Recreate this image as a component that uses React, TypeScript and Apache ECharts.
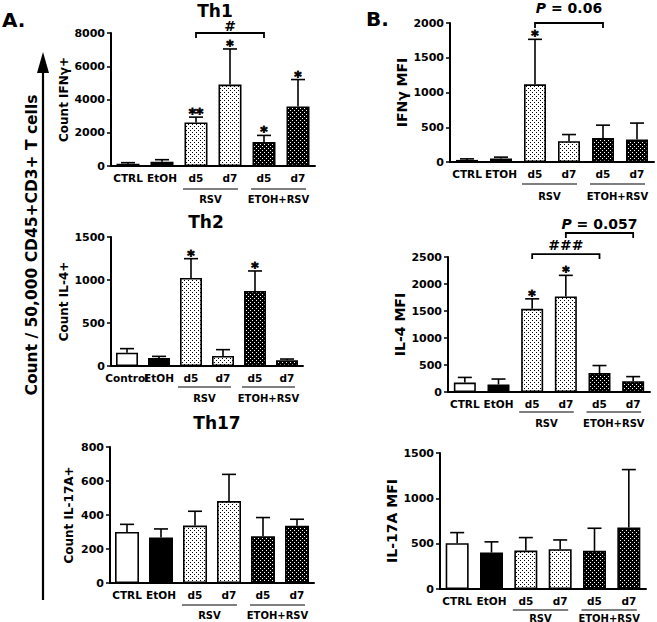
import React, { useEffect, useRef } from "react";
import * as echarts from "echarts";

const FONT = "'DejaVu Sans', 'Liberation Sans', Arial, sans-serif";

// ---- categories ----
const catsA = ["CTRL", "EtOH", "d5", "d7", "d5", "d7"];
const catsTh2 = ["Control", "EtOH", "d5", "d7", "d5", "d7"];
const catsIfn = ["CTRL", "ETOH", "d5", "d7", "d5", "d7"];
const groupLabels = ["RSV", "ETOH+RSV"];
const groupFrom = [2, 4];
const groupTo = [3, 5];
const fillKinds = ["white", "black", "light", "light", "dark", "dark"];

// ---- A. Th1 ----
const th1Values = [140, 260, 2620, 4900, 1440, 3580];
const th1ErrTop = [200, 380, 2940, 7040, 1840, 5200];
const th1Stars = ["", "", "**", "*", "*", "*"];
// ---- A. Th2 ----
const th2Values = [155, 93, 1023, 116, 872, 66];
const th2ErrTop = [202, 112, 1248, 190, 1105, 81];
const th2Stars = ["", "", "*", "", "*", ""];
// ---- A. Th17 ----
const th17Values = [300, 268, 338, 482, 275, 337];
const th17ErrTop = [345, 318, 422, 639, 385, 375];
const th17Stars = ["", "", "", "", "", ""];
// ---- B. IFNγ MFI ----
const ifnValues = [30, 50, 1118, 300, 345, 325];
const ifnErrTop = [45, 70, 1765, 395, 530, 560];
const ifnStars = ["", "", "*", "", "", ""];
// ---- B. IL-4 MFI ----
const il4Values = [175, 140, 1540, 1770, 350, 200];
const il4ErrTop = [270, 240, 1725, 2160, 490, 285];
const il4Stars = ["", "", "*", "*", "", ""];
// ---- B. IL-17A MFI ----
const il17Values = [505, 402, 424, 439, 421, 677];
const il17ErrTop = [622, 520, 567, 541, 670, 1317];
const il17Stars = ["", "", "", "", "", ""];

// ---- axis ticks ----
const th1Max = 8000, th1Step = 2000;
const th2Max = 1500, th2Step = 500;
const th17Max = 800, th17Step = 200;
const ifnMax = 2000, ifnStep = 500;
const il4Max = 2500, il4Step = 500;
const il17Max = 1500, il17Step = 500;

// ---- significance brackets ----
const th1Brackets = [{ from: 2, to: 4, y: 8000, label: "#" }];
const ifnBrackets = [{ from: 2, to: 4, y: 2000, label: "{i|P} = 0.06" }];
const il4Brackets = [
  { from: 2, to: 4, y: 2555, label: "###" },
  { from: 3, to: 5, y: 2944, label: "{i|P} = 0.057" },
];

const panels = [
  { cats: catsA, values: th1Values, err: th1ErrTop, stars: th1Stars, max: th1Max, step: th1Step, yName: "Count IFNγ+", brackets: th1Brackets },
  { cats: catsTh2, values: th2Values, err: th2ErrTop, stars: th2Stars, max: th2Max, step: th2Step, yName: "Count IL-4+", brackets: [] as any[] },
  { cats: catsA, values: th17Values, err: th17ErrTop, stars: th17Stars, max: th17Max, step: th17Step, yName: "Count IL-17A+", brackets: [] as any[] },
  { cats: catsIfn, values: ifnValues, err: ifnErrTop, stars: ifnStars, max: ifnMax, step: ifnStep, yName: "IFNγ MFI", brackets: ifnBrackets },
  { cats: catsA, values: il4Values, err: il4ErrTop, stars: il4Stars, max: il4Max, step: il4Step, yName: "IL-4 MFI", brackets: il4Brackets },
  { cats: catsA, values: il17Values, err: il17ErrTop, stars: il17Stars, max: il17Max, step: il17Step, yName: "IL-17A MFI", brackets: [] as any[] },
];

const layouts = [
  { left: 111, top: 33, width: 204, height: 133, barWidth: 23, nameGap: 38, nameSize: 12, lineOff: 23, textOff: 33, brTextOff: -7 },
  { left: 111, top: 237, width: 192, height: 129, barWidth: 22, nameGap: 37, nameSize: 12, lineOff: 21, textOff: 32, brTextOff: -8 },
  { left: 110, top: 447, width: 204, height: 136, barWidth: 24, nameGap: 35, nameSize: 12, lineOff: 22, textOff: 32, brTextOff: -8 },
  { left: 450, top: 23, width: 204, height: 139, barWidth: 22, nameGap: 38, nameSize: 14, lineOff: 22, textOff: 34, brTextOff: -15 },
  { left: 448, top: 257, width: 202, height: 135, barWidth: 22, nameGap: 36, nameSize: 14, lineOff: 20, textOff: 31, brTextOff: -9 },
  { left: 440, top: 453, width: 206, height: 136, barWidth: 23, nameGap: 30, nameSize: 14, lineOff: 21, textOff: 29, brTextOff: -8 },
];

function makePattern(bg: string, dot: string) {
  const c = document.createElement("canvas");
  c.width = 4;
  c.height = 4;
  const ctx = c.getContext("2d")!;
  ctx.fillStyle = bg;
  ctx.fillRect(0, 0, 4, 4);
  ctx.fillStyle = dot;
  ctx.fillRect(0, 0, 1, 1);
  ctx.fillRect(2, 2, 1, 1);
  return { image: c, repeat: "repeat" };
}

export default function App() {
  const ref = useRef<HTMLDivElement>(null);
  useEffect(() => {
    if (!ref.current) return;
    const chart = echarts.init(ref.current, undefined, { renderer: "svg" });
    const fills: Record<string, any> = {
      white: "#ffffff",
      black: "#000000",
      light: makePattern("#ffffff", "#000000"),
      dark: makePattern("#000000", "#ffffff"),
    };
    const txt = (extra: any) => ({
      fontFamily: FONT,
      fontWeight: "bold",
      fill: "#000000",
      align: "center",
      verticalAlign: "middle",
      ...extra,
    });

    const grid = layouts.map((l) => ({ left: l.left, top: l.top, width: l.width, height: l.height, containLabel: false }));
    const xAxis = panels.map((p, k) => ({
      gridIndex: k,
      type: "category",
      data: p.cats,
      axisLine: { lineStyle: { color: "#000", width: 2 } },
      axisTick: { alignWithLabel: true, length: 4, lineStyle: { color: "#000", width: 1.5 } },
      axisLabel: { interval: 0, color: "#000", fontWeight: "bold", fontSize: 10.5, fontFamily: FONT, margin: 6 },
    }));
    const yAxis = panels.map((p, k) => ({
      gridIndex: k,
      type: "value",
      min: 0,
      max: p.max,
      interval: p.step,
      name: p.yName,
      nameLocation: "middle",
      nameGap: layouts[k].nameGap,
      nameTextStyle: { color: "#000", fontWeight: "bold", fontSize: layouts[k].nameSize, fontFamily: FONT },
      axisLine: { show: true, lineStyle: { color: "#000", width: 2 } },
      axisTick: { show: true, length: 4, lineStyle: { color: "#000", width: 1.5 } },
      axisLabel: {
        color: "#000",
        fontWeight: "bold",
        fontSize: 11,
        fontFamily: FONT,
        margin: 6,
        formatter: (v: number) => String(v),
      },
      splitLine: { show: false },
    }));

    const series: any[] = [];
    panels.forEach((p, k) => {
      const lay = layouts[k];
      series.push({
        type: "bar",
        xAxisIndex: k,
        yAxisIndex: k,
        barWidth: lay.barWidth,
        silent: true,
        data: p.values.map((v, i) => ({
          value: v,
          itemStyle: { color: fills[fillKinds[i]], borderColor: "#000", borderWidth: 1.6 },
        })),
      });
      series.push({
        type: "custom",
        xAxisIndex: k,
        yAxisIndex: k,
        clip: false,
        silent: true,
        z: 5,
        itemStyle: { color: "#000000" },
        data: p.err.map((e, i) => [i, e]),
        renderItem: (params: any, api: any) => {
          const i = params.dataIndex;
          const base = api.coord([i, p.values[i]]);
          const top = api.coord([i, p.err[i]]);
          const children: any[] = [
            { type: "line", shape: { x1: base[0], y1: base[1], x2: top[0], y2: top[1] }, style: { stroke: "#000", lineWidth: 1.6 } },
            { type: "line", shape: { x1: top[0] - 7, y1: top[1], x2: top[0] + 7, y2: top[1] }, style: { stroke: "#000", lineWidth: 1.6 } },
          ];
          if (p.stars[i]) {
            children.push({
              type: "text",
              x: Math.round(top[0]),
              y: Math.round(top[1] - 4),
              style: txt({ text: p.stars[i], fontSize: 14, stroke: "#000000", lineWidth: 0.8 }),
            });
          }
          return { type: "group", children };
        },
      });
      series.push({
        type: "custom",
        xAxisIndex: k,
        yAxisIndex: k,
        clip: false,
        silent: true,
        itemStyle: { color: "#000000" },
        data: groupFrom.map((f) => [f, 0]),
        renderItem: (params: any, api: any) => {
          const g = params.dataIndex;
          const a = api.coord([groupFrom[g], 0]);
          const b = api.coord([groupTo[g], 0]);
          const x1 = a[0] - 13;
          const x2 = b[0] + 8;
          return {
            type: "group",
            children: [
              { type: "line", shape: { x1, y1: a[1] + lay.lineOff, x2, y2: a[1] + lay.lineOff }, style: { stroke: "#000", lineWidth: 1.2 } },
              { type: "text", x: (x1 + x2) / 2, y: a[1] + lay.textOff, style: txt({ text: groupLabels[g], fontSize: 10 }) },
            ],
          };
        },
      });
      if (p.brackets.length) {
        series.push({
          type: "custom",
          xAxisIndex: k,
          yAxisIndex: k,
          clip: false,
          silent: true,
          itemStyle: { color: "#000000" },
          data: p.brackets.map((b: any) => [b.from, b.y]),
          renderItem: (params: any, api: any) => {
            const b = p.brackets[params.dataIndex];
            const a = api.coord([b.from, b.y]);
            const c = api.coord([b.to, b.y]);
            return {
              type: "group",
              children: [
                {
                  type: "polyline",
                  shape: { points: [[a[0], a[1] + 5], [a[0], a[1]], [c[0], a[1]], [c[0], a[1] + 5]] },
                  style: { stroke: "#000", lineWidth: 1.8, fill: "none" },
                },
                {
                  type: "text",
                  x: (a[0] + c[0]) / 2,
                  y: a[1] + lay.brTextOff,
                  style: txt({
                    text: b.label,
                    fontSize: 14,
                    rich: { i: { fontStyle: "italic", fontWeight: "bold", fontSize: 14, fontFamily: FONT, fill: "#000" } },
                  }),
                },
              ],
            };
          },
        });
      }
    });

    const graphic: any[] = [
      { type: "text", x: 2, y: 20, style: txt({ text: "A.", fontSize: 20, align: "left" }) },
      { type: "text", x: 366, y: 19, style: txt({ text: "B.", fontSize: 20, align: "left" }) },
      { type: "text", x: 215, y: 11, style: txt({ text: "Th1", fontSize: 17 }) },
      { type: "text", x: 206, y: 222, style: txt({ text: "Th2", fontSize: 17 }) },
      { type: "text", x: 217, y: 423, style: txt({ text: "Th17", fontSize: 17 }) },
      { type: "line", shape: { x1: 43, y1: 600, x2: 43, y2: 70 }, style: { stroke: "#000", lineWidth: 2.2 } },
      { type: "polygon", shape: { points: [[43, 52], [37, 73], [49, 73]] }, style: { fill: "#000" } },
      {
        type: "text",
        x: 32,
        y: 245,
        rotation: Math.PI / 2,
        style: txt({ text: "Count / 50,000 CD45+CD3+ T cells", fontSize: 15.5 }),
      },
    ];

    chart.setOption({
      animation: false,
      backgroundColor: "#ffffff",
      grid,
      xAxis,
      yAxis,
      series,
      graphic,
    });
    return () => chart.dispose();
  }, []);
  return <div ref={ref} style={{ position: "absolute", left: 0, top: 0, width: 657, height: 622, background: "#fff" }} />;
}
